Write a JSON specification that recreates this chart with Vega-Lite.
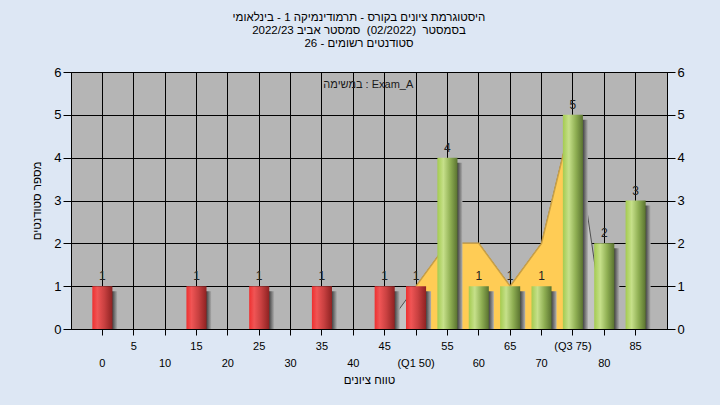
{
  "$schema": "https://vega.github.io/schema/vega-lite/v6.json",
  "width": 596,
  "height": 257,
  "autosize": "none",
  "padding": {"left": 71, "top": 72, "right": 53, "bottom": 76},
  "background": "#DDE7F4",
  "config": {
    "font": "Liberation Sans",
    "view": {"fill": "#B5B5B5", "stroke": "#000000", "strokeWidth": 1}
  },
  "title": {
    "text": ["היסטוגרמת ציונים בקורס - תרמודינמיקה 1 - בינלאומי", "בסמסטר \u00a0(02/2022) \u00a0סמסטר אביב 2022/23", "סטודנטים רשומים - 26"],
    "fontSize": 11.5,
    "fontWeight": "normal",
    "color": "#000000",
    "lineHeight": 13,
    "anchor": "middle",
    "offset": 17,
    "dx": -10
  },
  "datasets": {
    "bars": [
      {"g": 0, "n": 1}, {"g": 5, "n": 0}, {"g": 10, "n": 0}, {"g": 15, "n": 1},
      {"g": 20, "n": 0}, {"g": 25, "n": 1}, {"g": 30, "n": 0}, {"g": 35, "n": 1},
      {"g": 40, "n": 0}, {"g": 45, "n": 1}, {"g": 50, "n": 1}, {"g": 55, "n": 4},
      {"g": 60, "n": 1}, {"g": 65, "n": 1}, {"g": 70, "n": 1}, {"g": 75, "n": 5},
      {"g": 80, "n": 2}, {"g": 85, "n": 3}
    ],
    "gray": [
      {"g": 45, "v": 0}, {"g": 50, "v": 1}, {"g": 55, "v": 2}, {"g": 60, "v": 2},
      {"g": 65, "v": 1}, {"g": 70, "v": 2}, {"g": 75, "v": 5}, {"g": 80, "v": 0}
    ],
    "yellow": [
      {"g": 50, "v": 1}, {"g": 55, "v": 2}, {"g": 60, "v": 2},
      {"g": 65, "v": 1}, {"g": 70, "v": 2}, {"g": 75, "v": 5}
    ],
    "legend": [{"t": "במשימה : Exam_A"}]
  },
  "resolve": {"axis": {"y": "independent"}},
  "layer": [
    {
      "data": {"name": "gray"},
      "mark": {"type": "area", "color": "#C4C4C4", "opacity": 1, "line": {"color": "#505050", "strokeWidth": 1}},
      "encoding": {
        "x": {
          "field": "g", "type": "ordinal",
          "scale": {"domain": [0,5,10,15,20,25,30,35,40,45,50,55,60,65,70,75,80,85], "paddingInner": 0.36, "paddingOuter": 0.68},
          "axis": {
            "title": "טווח ציונים",
            "titleFontSize": 11.5, "titleFontWeight": "normal", "titleColor": "#000000", "titlePadding": 6,
            "labelAngle": 0, "labelFontSize": 11, "labelColor": "#000000",
            "labelBaseline": "top", "labelLineHeight": 17, "labelPadding": 5,
            "labelOverlap": false, "labelBound": false, "labelFlush": false,
            "labelExpr": "datum.value % 10 == 0 ? ['', datum.value == 50 ? '(Q1 50)' : datum.label] : (datum.value == 75 ? '(Q3 75)' : datum.label)",
            "grid": true, "gridColor": "#000000", "gridWidth": 1, "gridOpacity": 1,
            "domainColor": "#000000", "tickColor": "#000000", "tickSize": 6
          }
        },
        "y": {
          "field": "v", "type": "quantitative",
          "scale": {"domain": [0, 6], "nice": false},
          "axis": {
            "orient": "left", "values": [0,1,2,3,4,5,6],
            "title": "מספר סטודנטים", "titleFontSize": 11.5, "titleFontWeight": "normal", "titleColor": "#000000", "titlePadding": 11,
            "labelFontSize": 13, "labelColor": "#000000", "labelPadding": 2,
            "grid": true, "gridColor": "#000000", "gridWidth": 1, "gridOpacity": 1,
            "domainColor": "#000000", "tickColor": "#000000", "tickSize": 8
          }
        }
      }
    },
    {
      "data": {"name": "yellow"},
      "mark": {"type": "area", "color": "#FFCC55", "opacity": 1, "line": {"color": "#C9A047", "strokeWidth": 1.5}},
      "encoding": {
        "x": {"field": "g", "type": "ordinal"},
        "y": {"field": "v", "type": "quantitative", "axis": null}
      }
    },
    {
      "data": {"name": "bars"},
      "transform": [{"filter": "datum.n > 0"}],
      "mark": {
        "type": "bar", "clip": true, "xOffset": 5, "yOffset": 5,
        "color": {"gradient": "linear", "x1": 0, "x2": 1, "y1": 0, "y2": 0,
          "stops": [{"offset": 0, "color": "#3a3a3a"}, {"offset": 0.75, "color": "#454545"}, {"offset": 1, "color": "#B0B0B0"}]}
      },
      "encoding": {
        "x": {"field": "g", "type": "ordinal"},
        "y": {"field": "n", "type": "quantitative", "axis": null}
      }
    },
    {
      "data": {"name": "bars"},
      "transform": [{"filter": "datum.n > 0 && datum.g < 55"}],
      "mark": {
        "type": "bar",
        "color": {"gradient": "linear", "x1": 0, "x2": 1, "y1": 0, "y2": 0,
          "stops": [{"offset": 0, "color": "#EE3030"}, {"offset": 0.25, "color": "#F05555"}, {"offset": 0.6, "color": "#C84040"}, {"offset": 1, "color": "#8E2222"}]}
      },
      "encoding": {
        "x": {"field": "g", "type": "ordinal"},
        "y": {"field": "n", "type": "quantitative", "axis": null}
      }
    },
    {
      "data": {"name": "bars"},
      "transform": [{"filter": "datum.n > 0 && datum.g >= 55"}],
      "mark": {
        "type": "bar",
        "color": {"gradient": "linear", "x1": 0, "x2": 1, "y1": 0, "y2": 0,
          "stops": [{"offset": 0, "color": "#A4CB50"}, {"offset": 0.3, "color": "#C6E08A"}, {"offset": 0.65, "color": "#8EAE52"}, {"offset": 1, "color": "#5A7330"}]}
      },
      "encoding": {
        "x": {"field": "g", "type": "ordinal"},
        "y": {"field": "n", "type": "quantitative", "axis": null}
      }
    },
    {
      "data": {"name": "legend"},
      "mark": {"type": "text", "fontSize": 11, "color": "#1a1a1a", "baseline": "middle", "align": "center", "dx": 15},
      "encoding": {
        "x": {"datum": 40, "type": "ordinal"},
        "y": {"datum": 5.7, "type": "quantitative", "axis": null},
        "text": {"field": "t"}
      }
    },
    {
      "data": {"name": "bars"},
      "transform": [{"filter": "datum.n > 0"}],
      "mark": {"type": "text", "fontSize": 12, "color": "#222222", "baseline": "alphabetic", "dy": -6},
      "encoding": {
        "x": {"field": "g", "type": "ordinal"},
        "y": {
          "field": "n", "type": "quantitative",
          "axis": {
            "orient": "right", "values": [0,1,2,3,4,5,6], "title": null,
            "labelFontSize": 13, "labelColor": "#000000", "labelPadding": 2,
            "grid": false, "domainColor": "#000000", "tickColor": "#000000", "tickSize": 8
          }
        },
        "text": {"field": "n"}
      }
    }
  ]
}
